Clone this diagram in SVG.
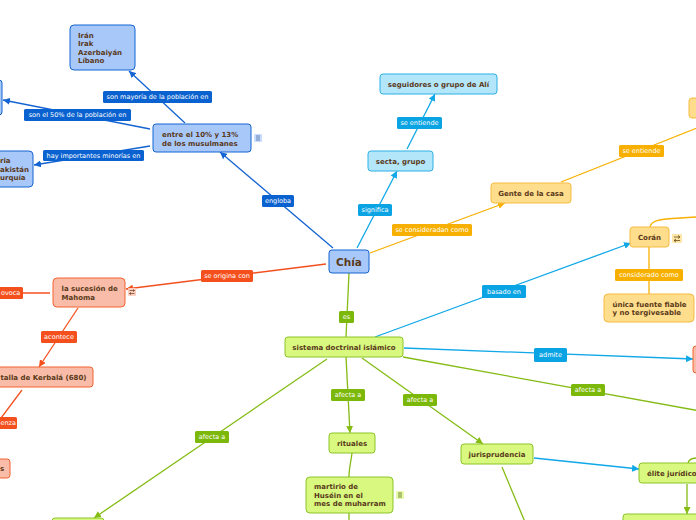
<svg xmlns="http://www.w3.org/2000/svg" width="696" height="520" viewBox="0 0 696 520">
<style>
text{font-family:"DejaVu Sans","Liberation Sans",sans-serif}
.t{font-size:7px;font-weight:bold;fill:#5a3a1a}
.c{text-anchor:middle}
.big{font-size:10.5px}
.lt{font-size:6.5px;fill:#ffffff;text-anchor:middle}
.ls{font-size:6.5px;fill:#ffffff}
.nb{fill:#a8c8fa;stroke:#1464d2;stroke-width:1}
.nl{fill:#b4e6fa;stroke:#2cb0e8;stroke-width:1}
.no{fill:#fedd8c;stroke:#f6bb40;stroke-width:1}
.nr{fill:#f8bca8;stroke:#f4622e;stroke-width:1}
.ng{fill:#d8f880;stroke:#8cc428;stroke-width:1}
.ldb{fill:#0a62d0}.llb{fill:#0aa4e4}.lor{fill:#f8b000}.lrd{fill:#f4501e}.lgr{fill:#7cb80a}
.cdb{stroke:#1464d2}.clb{stroke:#10a8e8}.cor{stroke:#f8b000}.crd{stroke:#f4501e}.cgr{stroke:#84bc14}
#connectors path{fill:none;stroke-width:1.3}
.ic{stroke:#4a6aa0;stroke-width:0.8}
</style>
<defs>
<marker id="adb" markerUnits="userSpaceOnUse" markerWidth="7" markerHeight="7" refX="7" refY="3.5" orient="auto"><path d="M0,0 L7,3.5 L0,7 z" fill="#1464d2"/></marker>
<marker id="alb" markerUnits="userSpaceOnUse" markerWidth="7" markerHeight="7" refX="7" refY="3.5" orient="auto"><path d="M0,0 L7,3.5 L0,7 z" fill="#10a8e8"/></marker>
<marker id="aor" markerUnits="userSpaceOnUse" markerWidth="7" markerHeight="7" refX="7" refY="3.5" orient="auto"><path d="M0,0 L7,3.5 L0,7 z" fill="#f8b000"/></marker>
<marker id="ard" markerUnits="userSpaceOnUse" markerWidth="7" markerHeight="7" refX="7" refY="3.5" orient="auto"><path d="M0,0 L7,3.5 L0,7 z" fill="#f4501e"/></marker>
<marker id="agr" markerUnits="userSpaceOnUse" markerWidth="7" markerHeight="7" refX="7" refY="3.5" orient="auto"><path d="M0,0 L7,3.5 L0,7 z" fill="#84bc14"/></marker>
</defs>
<rect width="696" height="520" fill="#ffffff"/>

<g id="connectors">
<path class="cdb" d="M333,248 L220,152" marker-end="url(#adb)"/>
<path class="cdb" d="M185,123 L129,71" marker-end="url(#adb)"/>
<path class="cdb" d="M150,129 L3,100" marker-end="url(#adb)"/>
<path class="cdb" d="M150,146 L34,165" marker-end="url(#adb)"/>
<path class="clb" d="M357,248 L397,171" marker-end="url(#alb)"/>
<path class="clb" d="M407,149 L435,94" marker-end="url(#alb)"/>
<path class="cor" d="M370,253 L505,203" marker-end="url(#aor)"/>
<path class="cor" d="M561,182 L722,118" marker-end="url(#aor)"/>
<path class="cor" d="M650,227 C651,221 658,219 680,218 L696,217"/>
<path class="cor" d="M649,247 L649,294"/>
<path class="crd" d="M326,264 L126,289" marker-end="url(#ard)"/>
<path class="crd" d="M50,293 L10,293"/>
<path class="crd" d="M78,308 L39,367" marker-end="url(#ard)"/>
<path class="crd" d="M22,390 L-2,422"/>
<path class="cgr" d="M349,273 L346,337"/>
<path class="clb" d="M375,337 L631,243" marker-end="url(#alb)"/>
<path class="clb" d="M404,348 L693,359" marker-end="url(#alb)"/>
<path class="cgr" d="M403,357 L700,411"/>
<path class="cgr" d="M346,357 L350,433" marker-end="url(#agr)"/>
<path class="cgr" d="M362,358 L483,444" marker-end="url(#agr)"/>
<path class="cgr" d="M327,359 L94,518" marker-end="url(#agr)"/>
<path class="cgr" d="M352,453 C351,462 349,468 349,477"/>
<path class="cgr" d="M349,513 L349,522"/>
<path class="clb" d="M534,458 L639,469" marker-end="url(#alb)"/>
<path class="cgr" d="M502,467 L525,522"/>
<path class="cgr" d="M687,484 L687,514" marker-end="url(#agr)"/>
<path class="cgr" d="M688,463 C689,459 692,458 697,458"/>

<rect class="ldb" x="262" y="195" width="32" height="12" rx="1.5"/><text class="lt" x="278" y="203.3">engloba</text>
<rect class="ldb" x="103" y="91" width="109" height="12" rx="1.5"/><text class="lt" x="157.5" y="99.3">son mayoría de la población en</text>
<rect class="ldb" x="24" y="109" width="107" height="12" rx="1.5"/><text class="lt" x="77.5" y="117.3">son el 50% de la población en</text>
<rect class="ldb" x="43" y="150" width="101" height="11" rx="1.5"/><text class="lt" x="93.5" y="157.8">hay importantes minorías en</text>
<rect class="llb" x="358" y="204" width="34" height="12" rx="1.5"/><text class="lt" x="375" y="212.3">significa</text>
<rect class="llb" x="397" y="117" width="45" height="12" rx="1.5"/><text class="lt" x="419.5" y="125.3">se entiende</text>
<rect class="lor" x="392" y="224" width="80" height="12" rx="1.5"/><text class="lt" x="432" y="232.3">se consideradan como</text>
<rect class="lor" x="619" y="145" width="45" height="12" rx="1.5"/><text class="lt" x="641.5" y="153.3">se entiende</text>
<rect class="lor" x="615" y="269" width="68" height="12" rx="1.5"/><text class="lt" x="649" y="277.3">considerado como</text>
<rect class="lrd" x="201" y="270" width="52" height="12" rx="1.5"/><text class="lt" x="227" y="278.3">se origina con</text>
<rect class="lrd" x="-12" y="287" width="35" height="12" rx="1.5"/><text class="ls" x="1" y="295.3">ovoca</text>
<rect class="lrd" x="41" y="331" width="36" height="12" rx="1.5"/><text class="lt" x="59" y="339.3">acontece</text>
<rect class="lrd" x="-22" y="417" width="39" height="12" rx="1.5"/><text class="ls" x="0.5" y="425.3">enza</text>
<rect class="lgr" x="339" y="311" width="15" height="12" rx="1.5"/><text class="lt" x="346.5" y="319.3">es</text>
<rect class="llb" x="482" y="285" width="44" height="13" rx="1.5"/><text class="lt" x="504" y="293.8">basado en</text>
<rect class="llb" x="534" y="348" width="33" height="14" rx="1.5"/><text class="lt" x="550.5" y="357.3">admite</text>
<rect class="lgr" x="571" y="384" width="34" height="12" rx="1.5"/><text class="lt" x="588" y="392.3">afecta a</text>
<rect class="lgr" x="331" y="389" width="34" height="12" rx="1.5"/><text class="lt" x="348" y="397.3">afecta a</text>
<rect class="lgr" x="403" y="394" width="34" height="12" rx="1.5"/><text class="lt" x="420" y="402.3">afecta a</text>
<rect class="lgr" x="195" y="431" width="34" height="12" rx="1.5"/><text class="lt" x="212" y="439.3">afecta a</text>
</g>

<g id="chia"><rect class="nb" x="329" y="250" width="40" height="23" rx="3"/><text class="t c big" x="349" y="265.5">Chía</text></g>
<g id="entre"><rect class="nb" x="153" y="124" width="98" height="28" rx="3"/><text class="t" x="162" y="137">entre el 10% y 13%</text><text class="t" x="162" y="145.5">de los musulmanes</text>
<rect x="254" y="134" width="8" height="8" rx="1" fill="#c8dcff"/><path class="ic" d="M256,136 H260 M256,138 H260 M256,140 H260"/></g>
<g id="iran"><rect class="nb" x="70" y="25" width="65" height="45" rx="4"/><text class="t" x="78" y="37.5">Irán</text><text class="t" x="78" y="46">Irak</text><text class="t" x="78" y="54.5">Azerbaiyán</text><text class="t" x="78" y="63">Líbano</text></g>
<g id="cincuenta"><rect class="nb" x="-20" y="80" width="22" height="35" rx="3"/></g>
<g id="minorias"><rect class="nb" x="-40" y="151" width="73" height="36" rx="4"/><text class="t" x="0" y="162.5">ria</text><text class="t" x="0" y="171.5">akistán</text><text class="t" x="0" y="180">urquía</text></g>
<g id="seguidores"><rect class="nl" x="380" y="74" width="117" height="20" rx="3"/><text class="t c" x="438.5" y="86.5">seguidores o grupo de Alí</text></g>
<g id="secta"><rect class="nl" x="368" y="151" width="65" height="20" rx="3"/><text class="t c" x="400.5" y="163.5">secta, grupo</text></g>
<g id="gente"><rect class="no" x="491" y="183" width="80" height="20" rx="3"/><text class="t c" x="531" y="195.5">Gente de la casa</text></g>
<g id="orange-tr"><rect class="no" x="689" y="98" width="40" height="20" rx="3"/></g>
<g id="coran"><rect class="no" x="630" y="227" width="39" height="20" rx="3"/><text class="t c" x="649.5" y="239.5">Corán</text>
<rect x="672" y="234" width="10" height="9" rx="1" fill="#fde6a8"/><path d="M674,237 H680 M678,235.5 L680,237 L678,238.5 M680,240.5 H674 M676,239 L674,240.5 L676,242" fill="none" stroke="#6a4a1a" stroke-width="0.8"/></g>
<g id="unica"><rect class="no" x="604" y="294" width="90" height="28" rx="4"/><text class="t" x="612.5" y="306.5">única fuente fiable</text><text class="t" x="612.5" y="315">y no tergivesable</text></g>
<g id="red-right"><rect class="nr" x="693" y="346" width="30" height="27" rx="3"/></g>
<g id="sistema"><rect class="ng" x="285" y="337" width="118" height="20" rx="3"/><text class="t c" x="344" y="349.5">sistema doctrinal islámico</text></g>
<g id="mahoma"><rect class="nr" x="53" y="278" width="72" height="29" rx="4"/><text class="t" x="61.5" y="291">la sucesión de</text><text class="t" x="61.5" y="300">Mahoma</text>
<rect x="128" y="288" width="8" height="8" rx="1" fill="#fcd0c0"/><path d="M129.5,290.5 H134.5 M133,289.3 L134.5,290.5 L133,291.7 M134.5,293.5 H129.5 M131,292.3 L129.5,293.5 L131,294.7" fill="none" stroke="#6a3a1a" stroke-width="0.7"/></g>
<g id="kerbala"><rect class="nr" x="-40" y="367" width="133" height="20" rx="3"/><text class="t" x="0.5" y="379.5">talla de Kerbalá (680)</text></g>
<g id="red-s"><rect class="nr" x="-30" y="459" width="40" height="19" rx="3"/><text class="t" x="0" y="471">s</text></g>
<g id="green-bl"><rect class="ng" x="52" y="518" width="52" height="20" rx="3"/></g>
<g id="rituales"><rect class="ng" x="329" y="433" width="46" height="20" rx="3"/><text class="t c" x="352" y="445.5">rituales</text></g>
<g id="martirio"><rect class="ng" x="306" y="477" width="87" height="36" rx="4"/><text class="t" x="314" y="489">martirio de</text><text class="t" x="314" y="497.5">Huséin en el</text><text class="t" x="314" y="506">mes de muharram</text>
<rect x="396" y="491" width="8" height="8" rx="1" fill="#e6fca8"/><path d="M398,493 H402 M398,495 H402 M398,497 H402" fill="none" stroke="#5a6a1a" stroke-width="0.8"/></g>
<g id="jurisprudencia"><rect class="ng" x="461" y="444" width="72" height="20" rx="3"/><text class="t c" x="497" y="456.5">jurisprudencia</text></g>
<g id="elite"><rect class="ng" x="639" y="463" width="90" height="20" rx="3"/><text class="t" x="647" y="475.5">élite jurídico</text></g>
<g id="green-br"><rect class="ng" x="623" y="514" width="90" height="20" rx="3"/></g>
</svg>
